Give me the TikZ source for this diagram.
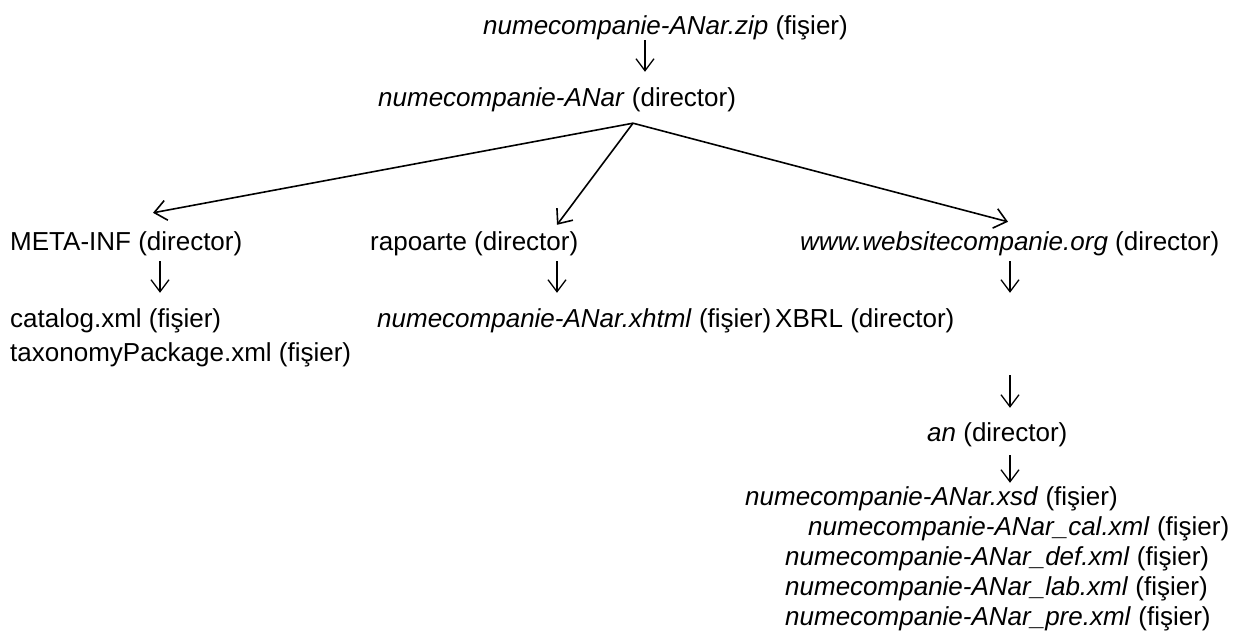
\documentclass[tikz,border=0pt]{standalone}
\usepackage{fontspec}
\setmainfont{Liberation Sans}
\usetikzlibrary{arrows.meta,calc}
\begin{document}
\begin{tikzpicture}[x=1pt,y=-1pt,
  lbl/.style={anchor=base west, inner sep=0pt, text height=19pt, text depth=6pt, font=\fontsize{26pt}{30pt}\selectfont},
  varr/.style={-{Straight Barb[length=12pt,width=18pt]}, line width=1.3pt},
  farr/.style={-{Straight Barb[length=12pt,width=20pt]}, line width=1.6pt}]
\useasboundingbox (0,0) rectangle (1234,643);
\node[lbl] (zip) at (483,34) {\textit{numecompanie-ANar.zip} (fişier)};
\node[lbl] (dir) at (378,106) {\textit{numecompanie-ANar} (director)};
\node[lbl] (meta) at (10,250) {META-INF (director)};
\node[lbl] (rap) at (370,250) {rapoarte (director)};
\node[lbl] (www) at (800,250) {\textit{www.websitecompanie.org} (director)};
\node[lbl] (cat) at (10,327) {catalog.xml (fişier)};
\node[lbl] (tax) at (10,361) {taxonomyPackage.xml (fişier)};
\node[lbl] (xhtml) at (377,327) {\textit{numecompanie-ANar.xhtml} (fişier)};
\node[lbl] (xbrl) at (775,327) {XBRL (director)};
\node[lbl] (an) at (927,441) {\textit{an} (director)};
\node[lbl] (xsd) at (745,505) {\textit{numecompanie-ANar.xsd} (fişier)};
\node[lbl] (cal) at (808,535) {\textit{numecompanie-ANar\_cal.xml} (fişier)};
\node[lbl] (def) at (785,565) {\textit{numecompanie-ANar\_def.xml} (fişier)};
\node[lbl] (lab) at (785,595) {\textit{numecompanie-ANar\_lab.xml} (fişier)};
\node[lbl] (pre) at (785,625) {\textit{numecompanie-ANar\_pre.xml} (fişier)};
% vertical arrows
\draw[varr] ($(zip.south west)+(162,0)$) -- ($(dir.north west)+(267,-15)$);
\draw[varr] ($(meta.south west)+(150,5)$) -- ($(cat.north west)+(150,-15)$);
\draw[varr] ($(rap.south west)+(187,5)$) -- ($(xhtml.north west)+(180,-15)$);
\draw[varr] ($(www.south west)+(210,5)$) -- ($(xbrl.north west)+(235,-15)$);
\draw[varr] ($(xbrl.south west)+(235,42)$) -- ($(an.north west)+(83,-14)$);
\draw[varr] ($(an.south west)+(83,8)$) -- ($(xsd.north west)+(265,-3)$);
% fan arrows
\coordinate (apex) at ($(dir.south west)+(255,11)$);
\draw[farr] (apex) -- ($(meta.north west)+(143,-18)$);
\draw[farr] (apex) -- ($(rap.north west)+(187,-6)$);
\draw[farr] (apex) -- ($(www.north west)+(208,-9)$);
\end{tikzpicture}
\end{document}
